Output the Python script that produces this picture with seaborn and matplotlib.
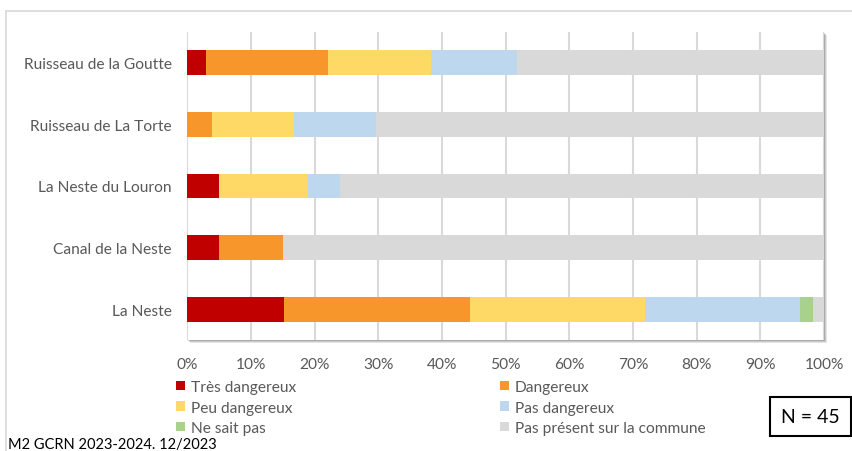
import matplotlib
matplotlib.use("Agg")
import matplotlib.pyplot as plt
import matplotlib.patches as mpatches
from matplotlib.lines import Line2D
import numpy as np
import pandas as pd
import seaborn as sns

# Rivers (top to bottom) and share of answers per danger level (%)
rivers = ["Ruisseau de la Goutte", "Ruisseau de La Torte", "La Neste du Louron",
          "Canal de la Neste", "La Neste"]
tres_dangereux = [2.9, 0.0, 4.9, 4.9, 15.1]
dangereux = [19.2, 3.8, 0.0, 10.1, 29.3]
peu_dangereux = [16.2, 13.0, 14.0, 0.0, 27.5]
pas_dangereux = [13.4, 12.8, 5.1, 0.0, 24.4]
ne_sait_pas = [0.0, 0.0, 0.0, 0.0, 2.0]
pas_present = [48.3, 70.4, 76.0, 85.0, 1.7]

levels = ["Très dangereux", "Dangereux", "Peu dangereux", "Pas dangereux",
          "Ne sait pas", "Pas présent sur la commune"]
colors = ["#C00000", "#F7962A", "#FFD966", "#BDD7EE", "#A9D18E", "#D9D9D9"]
x_ticks = [0, 10, 20, 30, 40, 50, 60, 70, 80, 90, 100]

series = [tres_dangereux, dangereux, peu_dangereux, pas_dangereux,
          ne_sait_pas, pas_present]
df = pd.DataFrame(dict(zip(levels, series)), index=rivers)
cum = df.cumsum(axis=1)

sns.set_style("white")
plt.rcParams["font.family"] = ["Lato", "DejaVu Sans"]
text_col = "#595959"
fs = 11.2
W, H = 853, 452
fig = plt.figure(figsize=(W / 100, H / 100), dpi=100)

# plot area in pixel coordinates
x0, x1, y0, y1 = 187.5, 824.0, 33.0, 341.0
ax = fig.add_axes([x0 / W, 1 - y1 / H, (x1 - x0) / W, (y1 - y0) / H])

# subtle drop shadow behind the plot area
for off, a in [(3, 0.10), (2, 0.12), (1, 0.15)]:
    fig.patches.append(mpatches.Rectangle(((x0 + off) / W, 1 - (y1 + off) / H),
                                          (x1 - x0) / W, (y1 - y0) / H,
                                          transform=fig.transFigure,
                                          facecolor="#000000", alpha=a,
                                          edgecolor="none", zorder=0))
ax.set_facecolor("white")
ax.set_zorder(1)

# stacked bars: draw cumulative totals from the last level backwards
for lvl, col in reversed(list(zip(levels, colors))):
    d = pd.DataFrame({"river": rivers, "val": cum[lvl].values})
    sns.barplot(data=d, y="river", x="val", orient="h", color=col,
                width=0.4, saturation=1, ax=ax, order=rivers,
                edgecolor="none", linewidth=0, zorder=3)

ax.set_xlim(0, 100)
ax.set_ylim(4.5, -0.5)
ax.set_xticks(x_ticks)
ax.set_xticklabels([f"{t}%" for t in x_ticks])
ax.set_xlabel("")
ax.set_ylabel("")
ax.grid(axis="x", color="#D9D9D9", linewidth=1.5, zorder=0)
ax.set_axisbelow(True)
for s in ax.spines.values():
    s.set_visible(False)
ax.tick_params(axis="x", length=0, pad=12, labelsize=fs, labelcolor=text_col)
ax.tick_params(axis="y", length=0, pad=11.2, labelsize=fs, labelcolor=text_col)

# chart border (top and left edges visible)
fig.add_artist(Line2D([6 / W, 1.0], [1 - 12 / H, 1 - 12 / H],
                      transform=fig.transFigure, color="#D9D9D9", lw=1.2))
fig.add_artist(Line2D([6 / W, 6 / W], [1 - 12 / H, 0.0],
                      transform=fig.transFigure, color="#D9D9D9", lw=1.2))

# legend in two columns
handles = [mpatches.Patch(facecolor=c, edgecolor="none", label=l)
           for l, c in zip(levels, colors)]
col_x = [176, 500]
for i, cx in enumerate(col_x):
    fig.legend(handles=handles[i::2], loc="upper left",
               bbox_to_anchor=(cx / W, 1 - 381.0 / H),
               frameon=False, fontsize=fs, handlelength=0.56,
               handleheight=0.56, handletextpad=0.4, labelspacing=0.42,
               borderpad=0, borderaxespad=0, labelcolor=text_col)

# sample size box
fig.text(810.5 / W, 1 - 417.5 / H, "N = 45", fontsize=14, color="black",
         ha="center", va="center",
         bbox=dict(boxstyle="square,pad=0.55", facecolor="white",
                   edgecolor="black", linewidth=1.5))

# source line
fig.text(8 / W, 1 - 452 / H, "M2 GCRN 2023-2024. 12/2023", fontsize=10.5,
         color="black", ha="left", va="bottom")

fig.savefig("out.png", dpi=100)
